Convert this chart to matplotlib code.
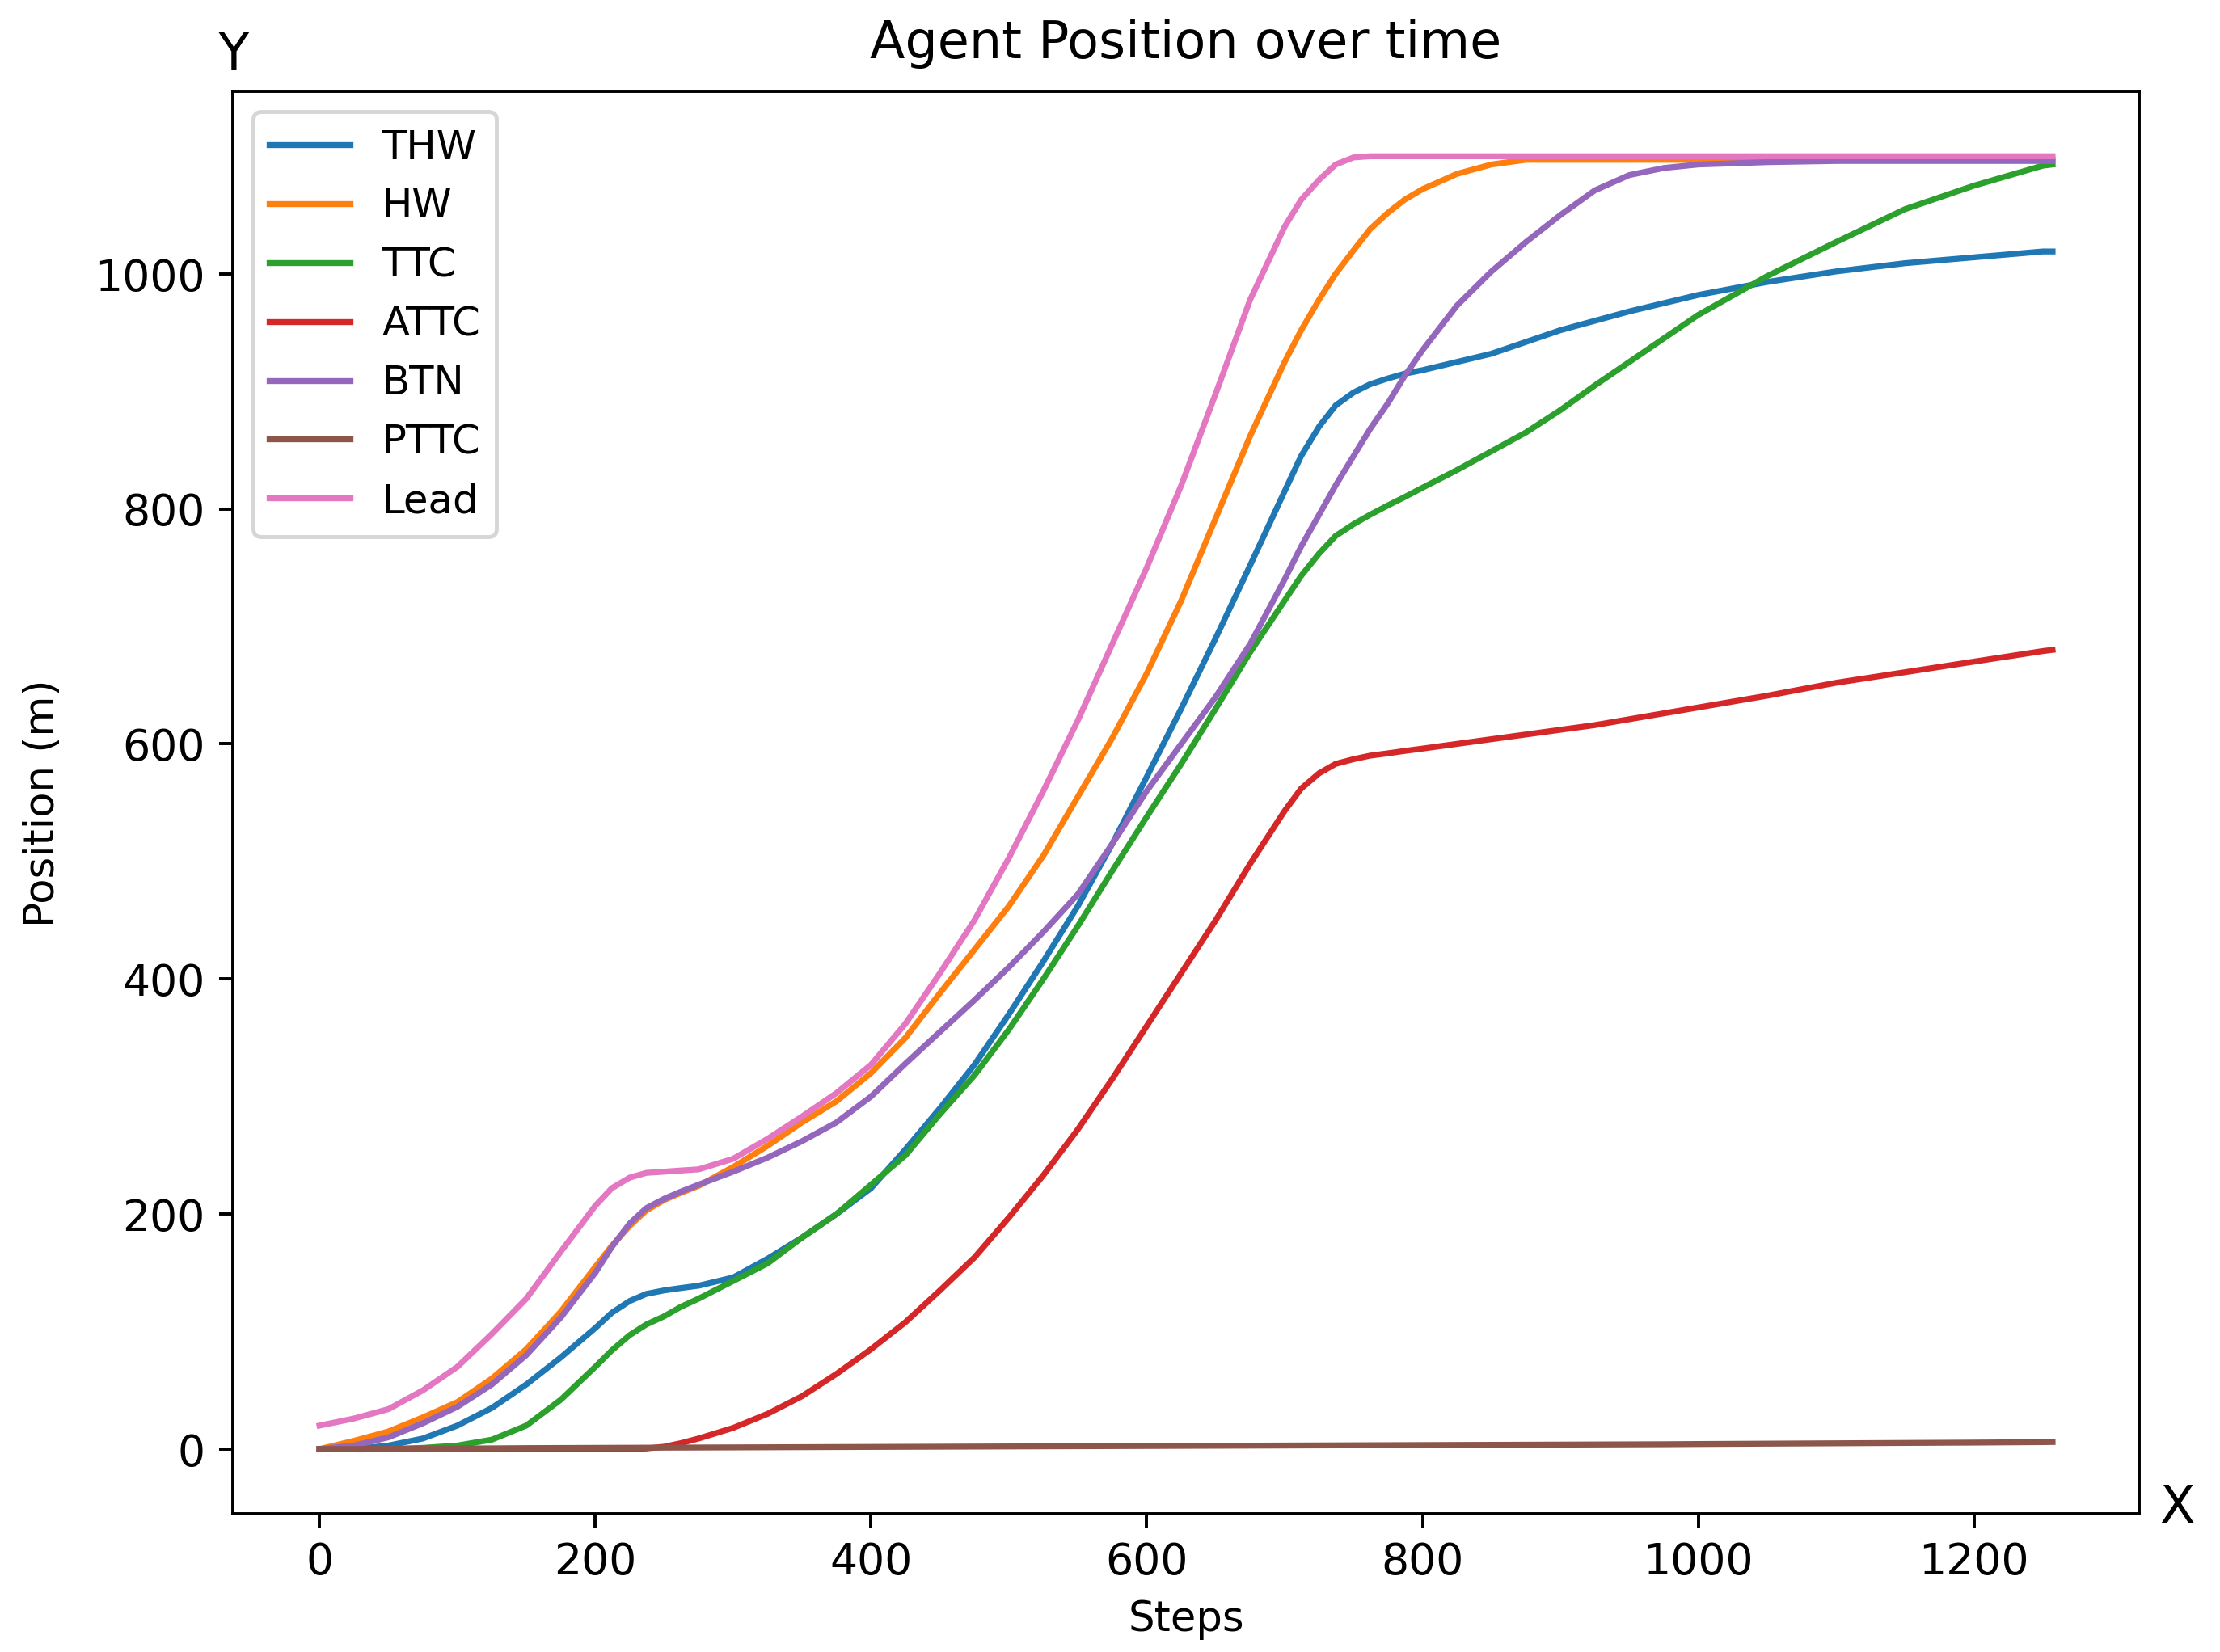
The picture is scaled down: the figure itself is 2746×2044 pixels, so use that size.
import matplotlib
matplotlib.use("Agg")
import matplotlib.pyplot as plt

# sampled steps (denser around the bends)
steps = [0, 25, 50, 75, 100, 125, 150, 175, 200, 212,
         225, 237, 250, 262, 275, 300, 325, 350, 375, 400,
         425, 450, 475, 500, 525, 550, 575, 600, 625, 650,
         675, 700, 712, 725, 737, 750, 762, 775, 787, 800,
         825, 850, 875, 900, 925, 950, 975, 1000, 1050, 1100,
         1150, 1200, 1250, 1257]

thw = [0, 0, 3, 9, 20, 35, 55, 78, 103, 116,
       126, 132, 135, 137, 139, 146, 162, 180, 200, 222,
       255, 290, 327, 370, 415, 462, 515, 572, 630, 690,
       752, 815, 845, 870, 888, 899, 906, 911, 915, 918,
       925, 932, 942, 952, 960, 968, 975, 982, 993, 1002,
       1009, 1014, 1019, 1019]

hw = [0, 7, 15, 27, 40, 60, 85, 117, 155, 173,
      190, 203, 212, 218, 224, 240, 258, 278, 296, 320,
      350, 388, 425, 462, 505, 555, 605, 660, 722, 792,
      862, 925, 952, 978, 1000, 1020, 1038, 1052, 1063, 1072,
      1085, 1093, 1097, 1097, 1097, 1097, 1097, 1097, 1097, 1097,
      1097, 1097, 1097, 1097]

ttc = [0, 0, 0, 1, 3, 8, 20, 42, 70, 84,
       97, 106, 113, 121, 128, 143, 158, 180, 200, 225,
       250, 285, 318, 357, 400, 445, 492, 538, 583, 630,
       678, 722, 743, 762, 777, 787, 795, 803, 810, 818,
       833, 849, 865, 884, 905, 925, 945, 965, 998, 1027,
       1055, 1075, 1092, 1093]

attc = [0, 0, 0, 0, 0, 0, 0, 0, 0, 0,
        0, 0.5, 2, 5, 9, 18, 30, 45, 64, 85,
        108, 135, 163, 197, 233, 272, 315, 360, 405, 450,
        498, 543, 562, 575, 583, 587, 590, 592, 594, 596,
        600, 604, 608, 612, 616, 621, 626, 631, 641, 652,
        661, 670, 679, 680]

btn = [0, 3, 10, 22, 36, 55, 80, 112, 150, 172,
       192, 205, 213, 219, 225, 236, 248, 262, 278, 300,
       328, 355, 382, 410, 440, 472, 515, 560, 600, 640,
       685, 740, 768, 795, 820, 845, 868, 890, 913, 935,
       973, 1002, 1027, 1050, 1071, 1084, 1090, 1093, 1095, 1096,
       1096, 1096, 1096, 1096]

pttc = [0, 0, 0.2, 0.3, 0.5, 0.6, 0.8, 0.9, 1.0, 1.05,
        1.1, 1.15, 1.2, 1.25, 1.3, 1.4, 1.5, 1.6, 1.7, 1.8,
        1.9, 2.0, 2.1, 2.2, 2.3, 2.4, 2.5, 2.6, 2.7, 2.8,
        2.9, 3.0, 3.05, 3.1, 3.15, 3.2, 3.25, 3.3, 3.35, 3.4,
        3.5, 3.6, 3.7, 3.8, 3.9, 4.0, 4.1, 4.3, 4.6, 4.9,
        5.2, 5.5, 5.9, 6.0]

lead = [20, 26, 34, 50, 70, 98, 128, 168, 207, 222,
        231, 235, 236, 237, 238, 247, 264, 283, 303, 327,
        362, 405, 450, 503, 560, 620, 685, 750, 820, 898,
        978, 1040, 1063, 1080, 1093, 1099, 1100, 1100, 1100, 1100,
        1100, 1100, 1100, 1100, 1100, 1100, 1100, 1100, 1100, 1100,
        1100, 1100, 1100, 1100]

series = [("THW", thw), ("HW", hw), ("TTC", ttc), ("ATTC", attc),
          ("BTN", btn), ("PTTC", pttc), ("Lead", lead)]

dpi = 352
fig = plt.figure(figsize=(2746.3 / dpi, 2044.3 / dpi), dpi=dpi)
ax = fig.add_axes([0.1049, 0.0837, 0.8586, 0.8607])

for nombre, valores in series:
    ax.plot(steps, valores, label=nombre)

ax.set_title("Agent Position over time", fontsize=13, pad=8.5)
ax.set_xlabel("Steps", fontsize=10.5)
ax.set_ylabel("Position (m)", fontsize=10.5, labelpad=8)
ax.tick_params(labelsize=11)
ax.legend(loc="upper left", fontsize=10.2)

ax.text(0.0, 1.026, "Y", transform=ax.transAxes, ha="center", va="center", fontsize=13)
ax.text(1.02, 0.004, "X", transform=ax.transAxes, ha="center", va="center", fontsize=13)

fig.savefig("out.png", dpi=dpi)
